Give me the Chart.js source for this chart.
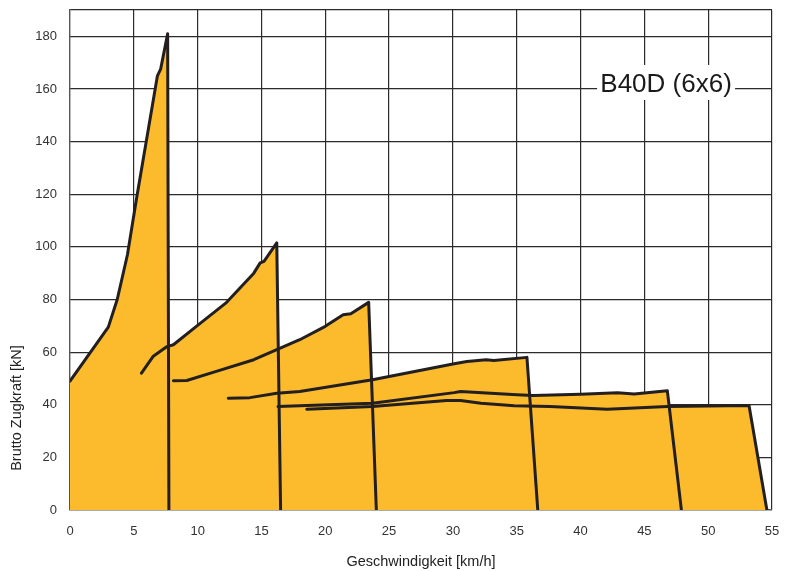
<!DOCTYPE html>
<html>
<head>
<meta charset="utf-8">
<script src="https://cdn.jsdelivr.net/npm/chart.js@4.4.1/dist/chart.umd.min.js"></script>
<style>
  html, body { margin: 0; padding: 0; background: #fff; }
  #wrap { width: 796px; height: 571px; }
</style>
</head>
<body>
<div id="wrap"><canvas id="tractionChart" width="796" height="571"></canvas></div>
<script>
// traction curves per gear, [speed km/h, force kN]
const gear1 = [[0, 49], [3, 69.5], [3.7, 80], [4.5, 97], [5.2, 118], [6.85, 165], [7.1, 167.5], [7.65, 181], [7.75, 0]];
const gear2 = [[5.6, 52], [6.5, 58.3], [7.6, 62.1], [8.1, 62.8], [9.9, 69.8], [12.2, 78.6], [14.4, 90], [14.9, 93.9], [15.2, 94.5], [16.2, 101.5], [16.5, 0]];
const gear3 = [[8.1, 49.1], [9.15, 49.2], [11.4, 52.6], [14.4, 57.1], [16.2, 60.9], [18.0, 64.7], [20, 69.8], [21.4, 74.2], [22, 74.6], [23.4, 78.9], [24.0, 0]];
const gear4 = [[12.4, 42.5], [14.1, 42.7], [16.2, 44.4], [18.0, 45.0], [23.7, 49.5], [30.1, 55.6], [31.1, 56.4], [32.6, 57.1], [33.2, 56.8], [35.8, 58.0], [36.65, 0]];
const gear5 = [[16.3, 39.3], [18, 39.6], [23.7, 40.6], [30.1, 44.6], [30.6, 45], [35.0, 43.8], [36.3, 43.5], [40, 44], [42.9, 44.6], [44.2, 44.1], [46.8, 45.3], [47.9, 0]];
const gear6 = [[18.55, 38.3], [23.7, 39.3], [29.5, 41.6], [30.6, 41.6], [32.2, 40.6], [34.8, 39.6], [37.6, 39.3], [42.1, 38.3], [46.8, 39.3], [53.2, 39.7], [54.6, 0]];

const GEARS = [gear1, gear2, gear3, gear4, gear5, gear6];
const X_TICKS = [0, 5, 10, 15, 20, 25, 30, 35, 40, 45, 50, 55];
const Y_TICKS = [0, 20, 40, 60, 80, 100, 120, 140, 160, 180];

const MODEL_LABEL = 'B40D (6x6)';
const X_TITLE = 'Geschwindigkeit [km/h]';
const Y_TITLE = 'Brutto Zugkraft [kN]';

const FONT = '"Liberation Sans", Arial, Helvetica, sans-serif';
const FILL = 'rgb(252, 187, 45)';
const LINE = '#231f20';
const GRID = '#2b2b2b';

// white box with the model name, plus the rotated y title
const labelsPlugin = {
  id: 'labels',
  afterDraw(chart) {
    const { ctx, scales: { x, y } } = chart;
    ctx.save();
    const cx = x.getPixelForValue(46.7);
    const cy = y.getPixelForValue(161.5);
    ctx.fillStyle = '#fff';
    ctx.fillRect(cx - 69, cy - 20, 138, 35);
    ctx.font = '26px ' + FONT;
    ctx.fillStyle = '#1a1a1a';
    ctx.textAlign = 'center';
    ctx.textBaseline = 'middle';
    ctx.fillText(MODEL_LABEL, cx, cy);

    ctx.translate(17, 408);
    ctx.rotate(-Math.PI / 2);
    ctx.font = '14.5px ' + FONT;
    ctx.fillStyle = '#222';
    ctx.fillText(Y_TITLE, 0, 0);
    ctx.restore();
  }
};

const datasets = GEARS.map((g, i) => ({
  label: `Gang ${i + 1}`,
  data: g.map(p => ({ x: p[0], y: p[1] })),
  borderColor: LINE,
  borderWidth: 3,
  backgroundColor: FILL,
  fill: 'origin',
  pointRadius: 0,
  tension: 0,
  borderJoinStyle: 'round',
  borderCapStyle: 'round'
}));

const ctx = document.getElementById('tractionChart').getContext('2d');
new Chart(ctx, {
  type: 'line',
  data: { datasets },
  plugins: [labelsPlugin],
  options: {
    responsive: false,
    animation: false,
    layout: { padding: { left: 0, right: 24, top: 10, bottom: 0 } },
    plugins: {
      legend: { display: false },
      tooltip: { enabled: false },
      filler: { drawTime: 'beforeDatasetsDraw' }
    },
    scales: {
      x: {
        type: 'linear',
        min: 0,
        max: 55,
        z: 1,
        afterFit: s => { s.height = 61; s.paddingLeft = 0; s.paddingRight = 0; },
        afterBuildTicks: s => { s.ticks = X_TICKS.map(v => ({ value: v })); },
        grid: { color: GRID, lineWidth: 1.2, drawTicks: false },
        border: { color: '#555', width: 1.2 },
        ticks: { padding: 14, color: '#333', font: { family: FONT, size: 13 } },
        title: {
          display: true,
          text: X_TITLE,
          color: '#222',
          font: { family: FONT, size: 14.5 },
          padding: { top: 12, bottom: 0 }
        }
      },
      y: {
        min: 0,
        max: 190,
        z: 1,
        afterFit: s => { s.width = 70; s.paddingTop = 0; s.paddingBottom = 0; },
        afterBuildTicks: s => { s.ticks = Y_TICKS.concat([190]).map(v => ({ value: v })); },
        grid: { color: GRID, lineWidth: 1.2, drawTicks: false },
        border: { color: '#555', width: 1.2 },
        ticks: {
          padding: 13,
          color: '#333',
          font: { family: FONT, size: 13 },
          callback: v => (Y_TICKS.includes(v) ? v : '')
        }
      }
    }
  }
});
</script>
</body>
</html>
